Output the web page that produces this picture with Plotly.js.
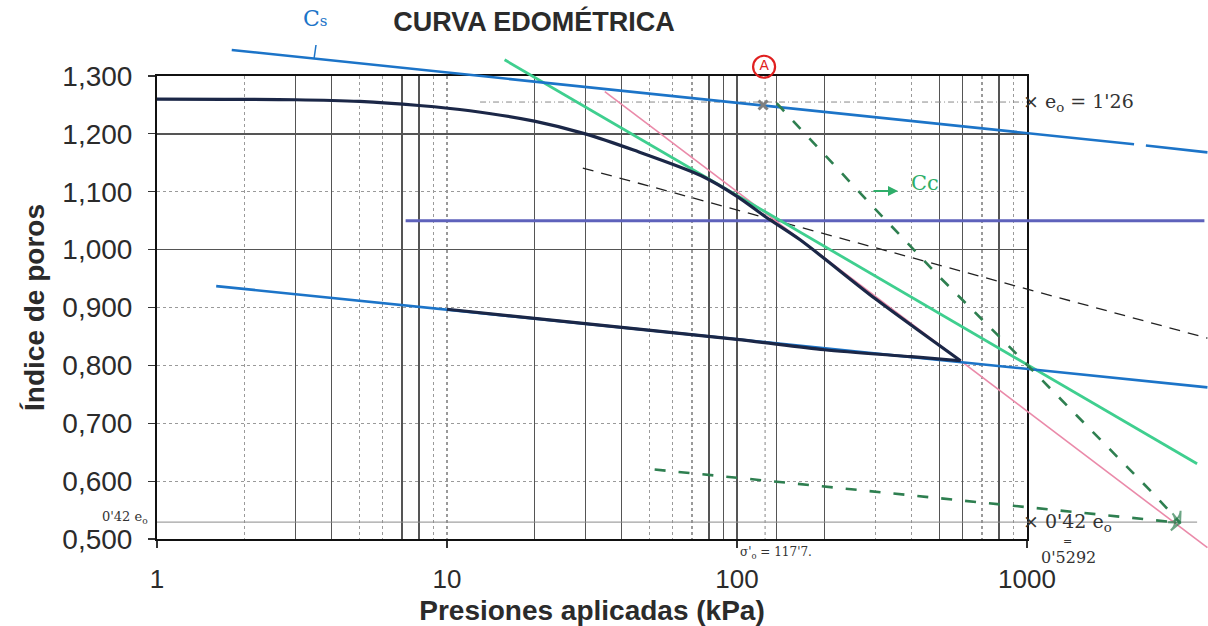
<!DOCTYPE html>
<html><head><meta charset="utf-8">
<script src="https://cdn.plot.ly/plotly-3.0.1.min.js"></script>
<style>html,body{margin:0;padding:0;background:#fff}</style>
</head><body><div id="chart" style="width:1208px;height:626px"></div>
<script>
// ---------- DATA ----------
const decadeTicks = [1, 10, 100, 1000];
const decadeLabels = ['1', '10', '100', '1000'];
const yTicks = [0.5, 0.6, 0.7, 0.8, 0.9, 1.0, 1.1, 1.2, 1.3];
const minorGridX = [2,3,4,5,6,7,8,9,10,20,30,40,50,60,70,80,90,100,200,300,400,500,600,700,800,900];
const solidGridX = [3,4,7,8,20,30,40,80,90,100,137,200,500,600,800];
const solidGridY = [1.0, 1.2];

// loading curve (kPa, void ratio)
const loadP = [1, 3, 5, 8, 12, 20, 30, 44, 75, 100, 126, 165, 300, 590];
const loadE = [1.26, 1.259, 1.256, 1.249, 1.24, 1.222, 1.2, 1.172, 1.128, 1.092, 1.056, 1.017, 0.915, 0.808];
// unloading curve
const unloadP = [10, 30, 100, 200, 400, 590];
const unloadE = [0.897, 0.872, 0.845, 0.827, 0.815, 0.808];
// Cs line (upper, drawn in two pieces)
const csUpperP = [1.81, 2340];
const csUpperE = [1.345, 1.182];
const csUpper2P = [2570, 4190];
const csUpper2E = [1.180, 1.168];
// Cs line (lower)
const csLowerP = [1.6, 4190];
const csLowerE = [0.937, 0.762];
// Cc line (green)
const ccP = [15.8, 3860];
const ccE = [1.328, 0.630];
// pink line
const pinkP = [35, 4190];
const pinkE = [1.273, 0.485];
// horizontal purple line
const purpleP = [7.2, 4090];
const purpleE = [1.05, 1.05];
// black dashed line
const blackDashP = [29.4, 4190];
const blackDashE = [1.141, 0.847];
// green dashed lines
const greenDash1P = [137, 281, 501, 874, 1487, 2719, 3372];
const greenDash1E = [1.253, 1.085, 0.952, 0.831, 0.713, 0.579, 0.528];
const greenDash2P = [52, 189, 3372];
const greenDash2E = [0.620, 0.592, 0.528];
// reference lines
const e042P = [1, 3860];
const e042E = [0.5292, 0.5292];
const e0LineP = [13, 1000];
const e0LineE = [1.255, 1.255];
const sigmaP = [125, 125];
const sigmaE = [1.3, 0.5];
// marked points
const pointAP = [124];
const pointAE = [1.316];
const pointXP = [123];
const pointXE = [1.25];

// ---------- GEOMETRY ----------
const W = 1208, H = 626;
const FL = 157, FR = 1027, FT = 76, FB = 539;
const pxDec = (FR - FL) / 3;
const pxUnit = (FB - FT) / 0.8;
const x2range = [(0 - FL) / pxDec, (W - FL) / pxDec];
const y2range = [0.5 - (H - FB) / pxUnit, 1.3 + FT / pxUnit];

const FONT = 'Liberation Sans, Arial, sans-serif';
const HAND = 'DejaVu Serif, serif';

function ln(x, y, color, width, dash, extra) {
  return Object.assign({
    type: 'scatter', mode: 'lines', x: x, y: y, xaxis: 'x2', yaxis: 'y2',
    line: {color: color, width: width, dash: dash || 'solid'},
    hoverinfo: 'skip', showlegend: false
  }, extra || {});
}
function arrowSizes(arr, s) { return arr.map((v, i) => i === arr.length - 1 ? s : 0); }

const traces = [
  {type:'scatter', mode:'markers', x:[1], y:[0.5], marker:{opacity:0}, hoverinfo:'skip', showlegend:false},
  {type:'scatter', mode:'markers', x:[1], y:[0.5], xaxis:'x3', yaxis:'y3', marker:{opacity:0}, hoverinfo:'skip', showlegend:false},
  ln(e042P, e042E, '#8a8a8a', 1, 'solid'),
  ln(e0LineP, e0LineE, '#8a8a8a', 1, '6px,3px,1px,3px'),
  ln(sigmaP, sigmaE, '#9a9a9a', 1.2, 'dot'),
  ln(purpleP, purpleE, '#5e62bb', 3),
  ln(blackDashP, blackDashE, '#222', 1.3, '11px,8px'),
  ln(pinkP, pinkE, '#ea8aa9', 1.6),
  ln(ccP, ccE, '#3fcf8f', 2.8),
  ln(csUpperP, csUpperE, '#1c74c8', 2.6),
  ln(csUpper2P, csUpper2E, '#1c74c8', 2.6),
  ln(csLowerP, csLowerE, '#1c74c8', 2.6),
  ln(greenDash1P, greenDash1E, '#2e7f50', 2.6, '11px,13px',
     {mode:'lines+markers', marker:{symbol:'arrow-wide-open', angleref:'previous', size:arrowSizes(greenDash1P, 12), color:'#2e7f50', line:{width:2, color:'#2e7f50'}}}),
  ln(greenDash2P, greenDash2E, '#2e7f50', 2.6, '11px,13px',
     {mode:'lines+markers', marker:{symbol:'arrow-wide-open', angleref:'previous', size:arrowSizes(greenDash2P, 12), color:'#2e7f50', line:{width:2, color:'#2e7f50'}}}),
  ln(unloadP, unloadE, '#1b2747', 3.2, 'solid', {line:{color:'#1b2747', width:3.2, shape:'spline', smoothing:0.8}}),
  ln(loadP, loadE, '#1b2747', 3.2, 'solid', {line:{color:'#1b2747', width:3.2, shape:'spline', smoothing:0.8}}),
  {type:'scatter', mode:'markers+text', x:pointAP, y:pointAE, xaxis:'x2', yaxis:'y2',
   marker:{symbol:'circle-open', size:22, color:'#e02020', line:{width:2.2, color:'#e02020'}},
   text:['A'], textposition:'middle center', textfont:{family:FONT, size:14, color:'#e02020'},
   hoverinfo:'skip', showlegend:false},
  {type:'scatter', mode:'markers', x:pointXP, y:pointXE, xaxis:'x2', yaxis:'y2',
   marker:{symbol:'x-thin-open', size:9, line:{width:3, color:'#e02020'}},
   hoverinfo:'skip', showlegend:false}
];

const layout = {
  width: W, height: H,
  margin: {l:0, r:0, t:0, b:0},
  paper_bgcolor: '#ffffff', plot_bgcolor: 'rgba(0,0,0,0)',
  separators: ',.',
  showlegend: false,
  font: {family: FONT, color: '#2b2b2b'},
  title: {text: '<b>CURVA EDOMÉTRICA</b>', x: 534 / W, xanchor: 'center', y: 1 - 22 / H, yanchor: 'middle',
          font: {family: FONT, size: 27, color: '#2b2b2b'}},
  xaxis: {
    type: 'log', domain: [FL / W, FR / W], range: [0, 3], anchor: 'y',
    tickmode: 'array', tickvals: decadeTicks, ticktext: decadeLabels,
    ticks: 'outside', ticklen: 7, tickcolor: '#333', tickwidth: 1.2,
    tickfont: {size: 26, color: '#2b2b2b'}, ticklabelstandoff: 9,
    showline: true, mirror: true, linecolor: '#111', linewidth: 2,
    showgrid: true, gridcolor: '#9a9a9a', griddash: 'dot', gridwidth: 1.2,
    minor: {tickmode: 'array', tickvals: minorGridX, showgrid: true, gridcolor: '#9a9a9a', griddash: 'dot', gridwidth: 1.2, ticks: ''},
    zeroline: false,
    title: {text: '<b>Presiones aplicadas (kPa)</b>', font: {size: 28, color: '#2b2b2b'}, standoff: 12}
  },
  yaxis: {
    domain: [(H - FB) / H, (H - FT) / H], range: [0.5, 1.3], anchor: 'x',
    tickmode: 'array', tickvals: yTicks, tickformat: '.3f',
    ticks: 'outside', ticklen: 7, tickcolor: '#333', tickwidth: 1.2,
    tickfont: {size: 28, color: '#2b2b2b'}, ticklabelstandoff: 10,
    showline: true, mirror: true, linecolor: '#111', linewidth: 2,
    showgrid: true, gridcolor: '#9a9a9a', griddash: 'dot', gridwidth: 1.2,
    zeroline: false,
    title: {text: '<b>Índice de poros</b>', font: {size: 28, color: '#2b2b2b'}, standoff: 10}
  },
  xaxis3: {type: 'log', overlaying: 'x', anchor: 'y', range: [0, 3], tickmode: 'array', tickvals: solidGridX,
           showticklabels: false, ticks: '', showgrid: true, gridcolor: '#555', gridwidth: 1.3, zeroline: false, showline: false},
  yaxis3: {overlaying: 'y', anchor: 'x', range: [0.5, 1.3], tickmode: 'array', tickvals: solidGridY,
           showticklabels: false, ticks: '', showgrid: true, gridcolor: '#555', gridwidth: 1.3, zeroline: false, showline: false},
  xaxis2: {type: 'log', domain: [0, 1], range: x2range, anchor: 'y2', visible: false, fixedrange: true},
  yaxis2: {domain: [0, 1], range: y2range, anchor: 'x2', visible: false, fixedrange: true},
  shapes: [
    {type: 'line', xref: 'paper', yref: 'paper', x0: 316 / W, x1: 314 / W, y0: 1 - 45 / H, y1: 1 - 59 / H,
     line: {color: '#1c74c8', width: 1.5}}
  ],
  annotations: [
    {xref:'paper', yref:'paper', x:315/W, y:1-18/H, text:'C<span style="font-size:15px">s</span>', showarrow:false,
     font:{family:HAND, size:22, color:'#1c74c8'}, xanchor:'center', yanchor:'middle'},
    {xref:'paper', yref:'paper', x:925/W, y:1-183/H, text:'Cc', showarrow:false,
     font:{family:HAND, size:21, color:'#2fae6a'}, xanchor:'center', yanchor:'middle'},
    {xref:'paper', yref:'paper', x:898/W, y:1-191/H, ax:-26, ay:0, text:'', showarrow:true,
     arrowhead:2, arrowsize:1, arrowwidth:2, arrowcolor:'#2fae6a'},
    {xref:'paper', yref:'paper', x:1021/W, y:1-103/H, text:'× e<sub>o</sub> = 1\'26', showarrow:false,
     font:{family:HAND, size:19, color:'#333'}, xanchor:'left', yanchor:'middle'},
    {xref:'paper', yref:'paper', x:1021/W, y:1-522/H, text:'× 0\'42 e<sub>o</sub>', showarrow:false,
     font:{family:HAND, size:19, color:'#333'}, xanchor:'left', yanchor:'middle'},
    {xref:'paper', yref:'paper', x:1067/W, y:1-541/H, text:'=', showarrow:false,
     font:{family:HAND, size:11, color:'#333'}, xanchor:'center', yanchor:'middle'},
    {xref:'paper', yref:'paper', x:1068/W, y:1-557/H, text:'0\'5292', showarrow:false,
     font:{family:HAND, size:16, color:'#333'}, xanchor:'center', yanchor:'middle'},
    {xref:'paper', yref:'paper', x:150/W, y:1-517/H, text:'0\'42 e<sub>o</sub>', showarrow:false,
     font:{family:HAND, size:13, color:'#333'}, xanchor:'right', yanchor:'middle'},
    {xref:'paper', yref:'paper', x:776/W, y:1-553/H, text:'σ\'<sub>o</sub> = 117\'7.', showarrow:false,
     font:{family:HAND, size:12, color:'#333'}, xanchor:'center', yanchor:'middle'}
  ]
};

Plotly.newPlot('chart', traces, layout, {staticPlot: true, displayModeBar: false});
</script>
</body></html>
